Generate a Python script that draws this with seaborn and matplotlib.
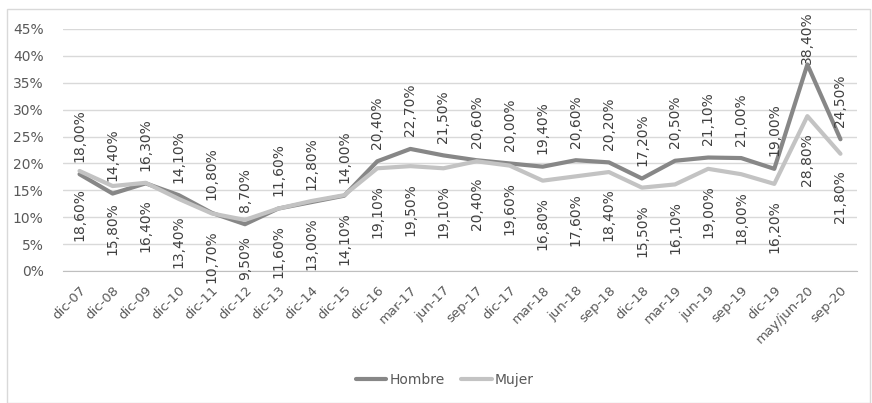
import numpy as np
import pandas as pd
import seaborn as sns
import matplotlib.pyplot as plt
from matplotlib.patches import Rectangle
from matplotlib.ticker import FuncFormatter, FixedLocator

periodos = ['dic-07', 'dic-08', 'dic-09', 'dic-10', 'dic-11', 'dic-12', 'dic-13',
            'dic-14', 'dic-15', 'dic-16', 'mar-17', 'jun-17', 'sep-17', 'dic-17',
            'mar-18', 'jun-18', 'sep-18', 'dic-18', 'mar-19', 'jun-19', 'sep-19',
            'dic-19', 'may/jun-20', 'sep-20']
hombre = [18.0, 14.4, 16.3, 14.1, 10.8, 8.7, 11.6, 12.8, 14.0, 20.4, 22.7, 21.5,
          20.6, 20.0, 19.4, 20.6, 20.2, 17.2, 20.5, 21.1, 21.0, 19.0, 38.4, 24.5]
mujer = [18.6, 15.8, 16.4, 13.4, 10.7, 9.5, 11.6, 13.0, 14.1, 19.1, 19.5, 19.1,
         20.4, 19.6, 16.8, 17.6, 18.4, 15.5, 16.1, 19.0, 18.0, 16.2, 28.8, 21.8]

sns.set_style('white')
plt.rcParams['font.family'] = ['DejaVu Sans']

df = pd.DataFrame({
    'x': list(range(len(periodos))) * 2,
    'valor': hombre + mujer,
    'sexo': ['Hombre'] * len(hombre) + ['Mujer'] * len(mujer),
})

fig = plt.figure(figsize=(8.72, 4.03), dpi=100)
ax = fig.add_axes([63 / 872, 1 - 271 / 403, (857 - 63) / 872, (271 - 29) / 403])
fig.patches.append(Rectangle((7 / 872, 0), (870 - 7) / 872, 1 - 9 / 403,
                             transform=fig.transFigure, fill=False,
                             edgecolor='#d9d9d9', linewidth=1))

colores = {'Hombre': '#878787', 'Mujer': '#c3c3c3'}
sns.lineplot(data=df, x='x', y='valor', hue='sexo', palette=colores,
             linewidth=3, ax=ax, legend=False)

for i, v in enumerate(hombre):
    # la etiqueta del pico se pega a la linea para no salirse del grafico
    dy = 0 if v > 35 else 9
    ax.annotate(f'{v:.2f}%'.replace('.', ','), (i, v), xytext=(0, dy),
                textcoords='offset points', rotation=90, ha='center', va='bottom',
                fontsize=10, color='#404040', annotation_clip=False)
for i, v in enumerate(mujer):
    ax.annotate(f'{v:.2f}%'.replace('.', ','), (i, v), xytext=(0, -12),
                textcoords='offset points', rotation=90, ha='center', va='top',
                fontsize=10, color='#404040', annotation_clip=False)

ax.set_xlim(-0.5, len(periodos) - 0.5)
ax.set_ylim(0, 45)
ax.yaxis.set_major_locator(FixedLocator(np.arange(0, 46, 5)))
ax.yaxis.set_major_formatter(FuncFormatter(lambda y, p: f'{int(y)}%'))
ax.grid(axis='y', color='#d9d9d9', linewidth=1)
ax.set_axisbelow(True)

ax.set_xticks(range(len(periodos)))
ax.set_xticklabels(periodos, rotation=45, ha='right', rotation_mode='anchor')
ax.set_xticks(np.arange(-0.5, len(periodos), 1), minor=True)
ax.tick_params(axis='x', which='major', length=0, pad=9, labelsize=9.5, labelcolor='#595959')
ax.tick_params(axis='x', which='minor', length=5, color='#bfbfbf', width=1)
ax.tick_params(axis='y', length=0, labelsize=10, labelcolor='#595959', pad=14)

for s in ['top', 'right', 'left']:
    ax.spines[s].set_visible(False)
ax.spines['bottom'].set_color('#bfbfbf')
ax.set_xlabel('')
ax.set_ylabel('')

handles = [plt.Line2D([], [], color=colores[k], linewidth=3) for k in ['Hombre', 'Mujer']]
fig.legend(handles, ['Hombre', 'Mujer'], loc='center', bbox_to_anchor=(0.51, 1 - 380 / 403),
           ncol=2, frameon=False, fontsize=10, handlelength=2.2, handletextpad=0.2,
           columnspacing=1.2, labelcolor='#595959')

fig.savefig('out.png', dpi=100)
